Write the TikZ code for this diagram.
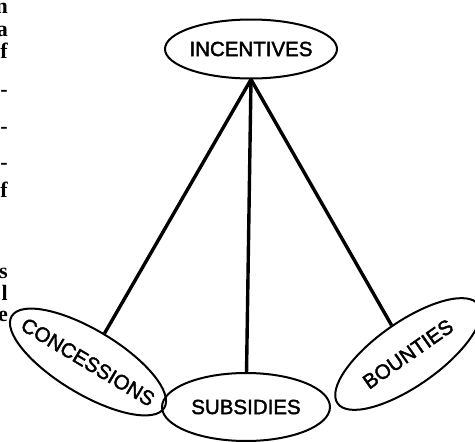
\documentclass[tikz,border=0pt]{standalone}
\usepackage{fontspec}
\setmainfont{Liberation Sans}
\newfontfamily\heavysans[FakeBold=2]{Liberation Sans}
\newfontfamily\bodyserif{Liberation Serif}
\usetikzlibrary{shapes.geometric}
\begin{document}
\begin{tikzpicture}[x=1pt,y=-1pt,
  bubble/.style={draw, ellipse, line width=2pt, inner sep=0pt},
  word/.style={font=\heavysans\fontsize{20.5}{20.5}\selectfont, inner sep=0pt},
  spoke/.style={line width=3.4pt},
  margin/.style={font=\bodyserif\bfseries\fontsize{22}{22}\selectfont, anchor=base east, inner sep=0pt}]
\useasboundingbox (0,0) rectangle (475,442);
\clip (0,0) rectangle (475,442);

% ends of the neighbouring text column
\node[margin] (m1) at (8,13) {n};
\node[margin] (m2) at (8,36) {a};
\node[margin] (m3) at (8,58) {f};
\node[margin] (m4) at (8,96) {-};
\node[margin] (m5) at (8,133) {-};
\node[margin] (m6) at (8,169) {-};
\node[margin] (m7) at (8,197) {f};
\node[margin] (m8) at (8,278) {s};
\node[margin] (m9) at (8,300) {l};
\node[margin] (m10) at (8,321) {e};

% the four bubbles
\node[bubble, minimum width=172pt, minimum height=59pt] (inc) at (251,49) {};
\node[word] (inct) at (inc.center) {INCENTIVES};

\node[bubble, minimum width=178pt, minimum height=64pt, rotate=-31] (con) at (88,362) {};
\node[word, rotate=-31] (cont) at (con.center) {CONCESSIONS};

\node[bubble, minimum width=168pt, minimum height=68pt] (sub) at (246,407) {};
\node[word] (subt) at (sub.center) {SUBSIDIES};

\node[bubble, minimum width=172pt, minimum height=64pt, rotate=35] (bou) at (408,354) {};
\node[word, rotate=35] (bout) at (bou.center) {BOUNTIES};

% spokes from the top bubble
\draw[spoke] (inc.south) -- (con);
\draw[spoke] (inc.south) -- (sub);
\draw[spoke] (inc.south) -- (bou);
\end{tikzpicture}
\end{document}
